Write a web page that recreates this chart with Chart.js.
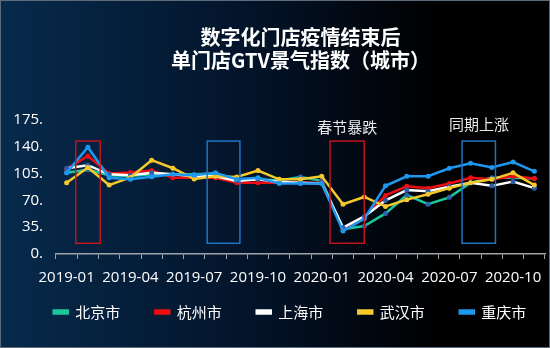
<!DOCTYPE html>
<html>
<head>
<meta charset="utf-8">
<script src="https://cdn.jsdelivr.net/npm/chart.js@4.4.1/dist/chart.umd.min.js"></script>
<style>
  html, body { margin: 0; padding: 0; }
  body { width: 550px; height: 348px; overflow: hidden; }
  #wrap {
    box-sizing: border-box;
    width: 550px; height: 348px;
    border: 1px solid #5d6b7a;
    background: linear-gradient(to right, #072a4c 0%, #03142a 45%, #000000 80%);
  }
</style>
</head>
<body>
<div id="wrap"><canvas id="myChart" width="548" height="346"></canvas></div>
<script>
// months on the x axis
const months = ['2019-01','2019-02','2019-03','2019-04','2019-05','2019-06','2019-07','2019-08','2019-09','2019-10','2019-11','2019-12',
  '2020-01','2020-02','2020-03','2020-04','2020-05','2020-06','2020-07','2020-08','2020-09','2020-10','2020-11'];

// series values
const beijing   = [106,110,103,102,104,104,104,105,97.5,97.5,96,100.5,95.5,32.5,36.5,53,77,65,74,93,99.5,99.5,98.5];
const hangzhou  = [111,128,105,106.5,109,99.5,99.5,99.5,93,93,93,93,93,32.5,48,76.5,88.5,86,92,99.5,97.5,101.5,98.5];
const shanghai  = [112,116,104,103,106,104,101.5,101.5,95.5,97.5,94,93,92,34.5,49,70,83.5,82,88,93,89,94.5,86];
const wuhan     = [93,113,90,100,122.5,112,98,101.5,100.5,109,97.5,97.5,101.5,65,74.5,62,71,78,86,93,97.5,106,90];
const chongqing = [106,139.5,99.5,97.5,101,104,103,106,97.5,99.5,92,92,92,30,46,89,101.5,101.5,112,118.5,113,120,108];

const cityNames = ['北京市','杭州市','上海市','武汉市','重庆市'];
const yTicks = [0, 35, 70, 105, 140, 175];

// highlight boxes, in category index / value units
const boxes = [
  { xMin: 0.43, xMax: 1.58, yMin: 14, yMax: 147.5, color: '#c0151d' },
  { xMin: 6.61, xMax: 8.15, yMin: 14, yMax: 147.5, color: '#1f74c4' },
  { xMin: 12.39, xMax: 14.0, yMin: 14, yMax: 147.5, color: '#c0151d' },
  { xMin: 18.6, xMax: 20.17, yMin: 14, yMax: 147.5, color: '#1f74c4' }
];
const notes = [
  { text: '春节暴跌', x: 13.2, y: 166 },
  { text: '同期上涨', x: 19.4, y: 169.5 }
];

const boxPlugin = {
  id: 'boxes',
  afterLayout(chart) {
    // nudge the legend row like the original (padding is wide, row sits high)
    chart.legend.left += 17;
    chart.legend.right += 17;
    chart.legend.top -= 26.5;
    chart.legend.bottom -= 26.5;
  },
  afterDatasetsDraw(chart) {
    const ctx = chart.ctx;
    const xs = chart.scales.x, ys = chart.scales.y;
    const step = xs.getPixelForValue(1) - xs.getPixelForValue(0);
    const px = (v) => xs.getPixelForValue(0) + v * step;
    ctx.save();
    boxes.forEach(b => {
      ctx.strokeStyle = b.color;
      ctx.lineWidth = 1.5;
      const x1 = px(b.xMin), x2 = px(b.xMax);
      const y1 = ys.getPixelForValue(b.yMax), y2 = ys.getPixelForValue(b.yMin);
      ctx.strokeRect(x1, y1, x2 - x1, y2 - y1);
    });
    ctx.fillStyle = '#e8e8e8';
    ctx.font = '15px "Noto Sans CJK SC"';
    ctx.textAlign = 'center';
    ctx.textBaseline = 'middle';
    notes.forEach(n => {
      ctx.fillText(n.text, px(n.x), ys.getPixelForValue(n.y));
    });
    ctx.restore();
  }
};

const mk = (label, data, color, pointColor, order) => ({
  label: label,
  data: data,
  borderColor: color,
  backgroundColor: color,
  borderWidth: 2.5,
  pointRadius: 2.5,
  pointBorderWidth: 0,
  pointBackgroundColor: pointColor,
  tension: 0,
  order: order
});

let myChart = document.getElementById('myChart').getContext('2d');

new Chart(myChart, {
  type: 'line',
  data: {
    labels: months,
    datasets: [
      mk(cityNames[0], beijing, '#1cc79b', '#2b64b0', 4),
      mk(cityNames[1], hangzhou, '#f00d12', '#f00d12', 3),
      mk(cityNames[2], shanghai, '#ffffff', '#2b5ea8', 2),
      mk(cityNames[3], wuhan, '#f6c92b', '#f6c92b', 1),
      mk(cityNames[4], chongqing, '#1e98ee', '#1e98ee', 0)
    ]
  },
  options: {
    responsive: false,
    animation: false,
    layout: { padding: { left: 0, right: 4, top: 0, bottom: 0 } },
    scales: {
      x: {
        offset: true,
        grid: { display: true, drawOnChartArea: false, offset: true, color: '#a0a4aa', tickLength: 5 },
        border: { display: true, color: '#a0a4aa', width: 1.5 },
        ticks: {
          color: '#ffffff',
          font: { size: 15, family: '"Open Sans", "Noto Sans CJK SC"', lineHeight: 0.6 },
          autoSkip: false,
          maxRotation: 0,
          padding: 14,
          callback: function(v, i) { return i % 3 === 0 ? months[i] : ''; }
        }
      },
      y: {
        min: 0,
        max: 175,
        afterBuildTicks: (s) => { s.ticks = yTicks.map(v => ({ value: v })); },
        afterFit: (s) => { s.width = 55; },
        grid: { display: false, drawTicks: false },
        border: { display: false },
        ticks: {
          color: '#ffffff',
          autoSkip: false,
          font: { size: 15, family: '"Open Sans", "Noto Sans CJK SC"' },
          padding: 13,
          callback: (v) => v + '.'
        }
      }
    },
    plugins: {
      title: {
        display: true,
        fullSize: false,
        text: ['数字化门店疫情结束后', '单门店GTV景气指数（城市）'],
        color: '#ffffff',
        font: { size: 20, weight: 'bold', family: '"Noto Sans CJK SC"', lineHeight: 1.15 },
        padding: { top: 25, bottom: 48 }
      },
      legend: {
        position: 'bottom',
        maxHeight: 51,
        labels: {
          sort: (a, b) => a.datasetIndex - b.datasetIndex,
          color: '#ffffff',
          font: { size: 15, family: '"Noto Sans CJK SC"' },
          boxWidth: 14,
          boxHeight: 3,
          padding: 35
        }
      },
      tooltip: { enabled: false }
    }
  },
  plugins: [boxPlugin]
});
</script>
</body>
</html>
